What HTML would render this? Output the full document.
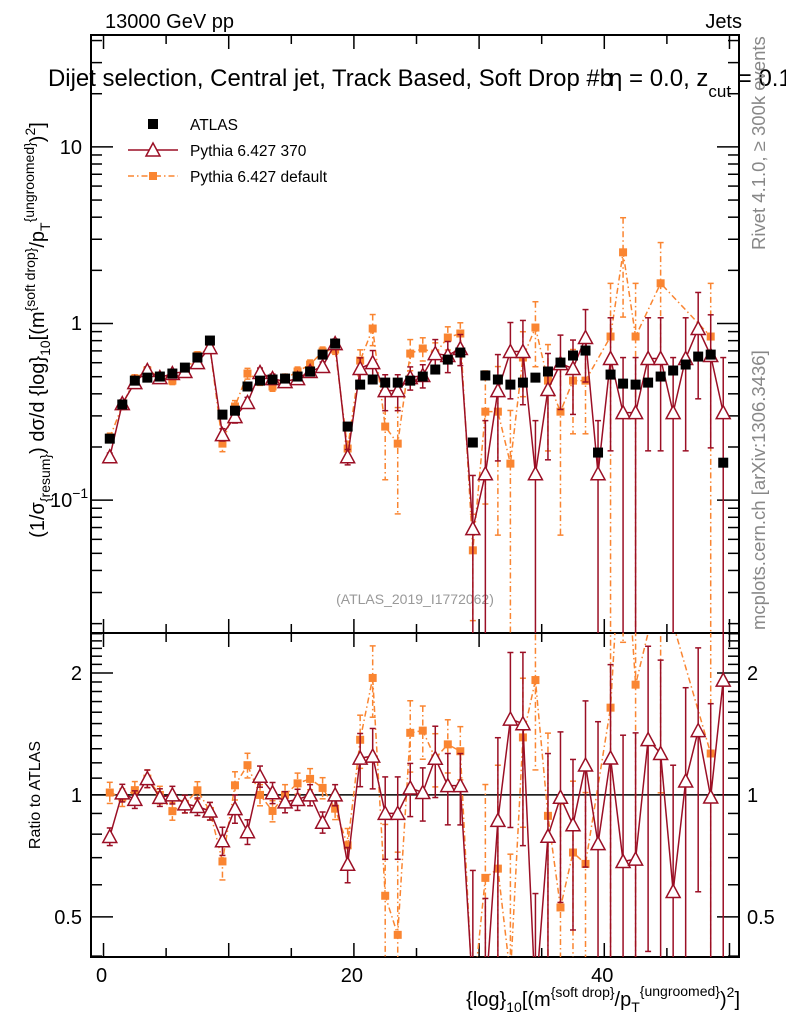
<!DOCTYPE html>
<html><head><meta charset="utf-8"><style>
html,body{margin:0;padding:0;background:#fff;overflow:hidden;width:786px;height:1024px;}
svg{display:block;font-family:"Liberation Sans",sans-serif;}
</style></head><body>
<svg id="chart" width="786" height="1024" viewBox="0 0 786 1024" xmlns="http://www.w3.org/2000/svg">
<defs>
<clipPath id="clipMain"><rect x="91" y="35" width="648" height="598"/></clipPath>
<clipPath id="clipRatio"><rect x="91" y="633" width="648" height="324"/></clipPath>
</defs>
<text x="105" y="28" font-size="20">13000 GeV pp</text>
<text x="742" y="28" font-size="20" text-anchor="end">Jets</text>
<text x="48" y="86" font-size="24" textLength="565" lengthAdjust="spacingAndGlyphs">Dijet selection, Central jet, Track Based, Soft Drop #b</text>
<text x="609" y="86" font-size="24">η = 0.0, z<tspan font-size="17" dy="11">cut</tspan><tspan dy="-11"> = 0.1</tspan></text>
<text transform="translate(765,250) rotate(-90)" font-size="18.5" fill="#888">Rivet 4.1.0, ≥ 300k events</text>
<text transform="translate(765,630) rotate(-90)" font-size="18.5" fill="#888">mcplots.cern.ch [arXiv:1306.3436]</text>
<text x="415" y="604" font-size="14" fill="#999" text-anchor="middle">(ATLAS_2019_I1772062)</text>
<text transform="translate(44,330) rotate(-90)" font-size="20" text-anchor="middle">(1/σ<tspan font-size="14" dy="6">{resum}</tspan><tspan dy="-6">) dσ/d {log}</tspan><tspan font-size="14" dy="6">10</tspan><tspan dy="-6">[(m</tspan><tspan font-size="14" dy="-9">{soft drop}</tspan><tspan dy="9">/p</tspan><tspan font-size="14" dy="6">T</tspan><tspan font-size="14" dy="-16">{ungroomed}</tspan><tspan dy="10">)</tspan><tspan font-size="14" dy="-9">2</tspan><tspan dy="9">]</tspan></text>
<text transform="translate(40,795) rotate(-90)" font-size="16" text-anchor="middle">Ratio to ATLAS</text>
<text x="740" y="1006" font-size="20" text-anchor="end">{log}<tspan font-size="14" dy="6">10</tspan><tspan dy="-6">[(m</tspan><tspan font-size="14" dy="-9">{soft drop}</tspan><tspan dy="9">/p</tspan><tspan font-size="14" dy="6">T</tspan><tspan font-size="14" dy="-16">{ungroomed}</tspan><tspan dy="10">)</tspan><tspan font-size="14" dy="-9">2</tspan><tspan dy="9">]</tspan></text>
<g id="axes"></g>
<g id="mainMarks" clip-path="url(#clipMain)"></g>
<g id="ratioMarks" clip-path="url(#clipRatio)"></g>
<g id="legend">
<rect x="148" y="119" width="10" height="10" fill="#000"/>
<text x="190" y="130" font-size="15.5">ATLAS</text>
<line x1="128" y1="150" x2="178" y2="150" stroke="#9b0f25" stroke-width="1.5"/>
<polygon points="153,143 160,156 146,156" fill="#fff" stroke="#9b0f25" stroke-width="1.5"/>
<text x="190" y="156" font-size="15.5">Pythia 6.427 370</text>
<line x1="128" y1="176" x2="178" y2="176" stroke="#fa8531" stroke-width="1.5" stroke-dasharray="6,3,1.5,3"/>
<rect x="149" y="172" width="8" height="8" fill="#fa8531"/>
<text x="190" y="182" font-size="15.5">Pythia 6.427 default</text>
</g>
</svg>
<script>
const binCenters = [0.5,1.5,2.5,3.5,4.5,5.5,6.5,7.5,8.5,9.5,10.5,11.5,12.5,13.5,14.5,15.5,16.5,17.5,18.5,19.5,20.5,21.5,22.5,23.5,24.5,25.5,26.5,27.5,28.5,29.5,30.5,31.5,32.5,33.5,34.5,35.5,36.5,37.5,38.5,39.5,40.5,41.5,42.5,43.5,44.5,45.5,46.5,47.5,48.5,49.5];
const atlasValues = [0.223,0.348,0.475,0.494,0.501,0.521,0.563,0.642,0.801,0.305,0.321,0.440,0.475,0.482,0.488,0.501,0.535,0.667,0.770,0.261,0.451,0.482,0.463,0.463,0.475,0.501,0.549,0.625,0.685,0.212,0.508,0.482,0.451,0.463,0.494,0.535,0.601,0.659,0.703,0.186,0.514,0.457,0.451,0.463,0.501,0.542,0.586,0.650,0.667,0.163];
const py370Values = [0.176,0.352,0.463,0.542,0.494,0.521,0.535,0.601,0.731,0.235,0.297,0.357,0.528,0.488,0.469,0.488,0.535,0.571,0.770,0.176,0.556,0.601,0.417,0.417,0.494,0.508,0.676,0.659,0.722,0.069,0.141,0.417,0.694,0.694,0.141,0.423,0.593,0.556,0.833,0.141,0.634,0.313,0.313,0.634,0.634,0.313,0.634,0.937,0.659,0.313];
const py370RelErr = [0.05,0.05,0.05,0.05,0.05,0.05,0.05,0.05,0.05,0.08,0.08,0.07,0.06,0.06,0.06,0.06,0.06,0.06,0.06,0.1,0.15,0.17,0.23,0.23,0.15,0.15,0.2,0.2,0.2,1.0,1.0,0.6,0.46,0.5,1.0,0.6,0.45,0.45,0.44,1.0,0.7,1.05,1.05,0.7,0.7,1.05,0.7,0.6,0.7,1.05];
const defaultValues = [0.226,0.343,0.488,0.542,0.501,0.475,0.535,0.659,0.731,0.209,0.339,0.521,0.475,0.440,0.488,0.535,0.586,0.694,0.712,0.196,0.617,0.937,0.261,0.209,0.676,0.722,0.676,0.833,0.878,0.052,0.317,0.317,0.161,0.642,0.949,0.475,0.317,0.475,0.475,null,0.844,2.53,0.844,null,1.69,null,null,null,0.844,null];
const defaultRelErr = [0.06,0.05,0.05,0.05,0.05,0.05,0.05,0.05,0.05,0.1,0.08,0.07,0.06,0.06,0.06,0.06,0.06,0.06,0.06,0.1,0.15,0.2,0.5,0.6,0.2,0.15,0.15,0.15,0.15,0.6,0.7,0.8,1.0,0.4,0.4,0.6,0.8,0.5,0.5,null,1.0,0.57,1.0,null,0.7,null,null,null,1.0,null];
const xTickLabels = ["0","20","40"];
const ratioTickLabels = ["0.5","1","2"];

const NS = "http://www.w3.org/2000/svg";
const L = 91, R = 739, T = 35, MB = 633, RB = 957;
const xMin = -1.0, xMax = 50.76;
const mainMin = Math.log10(0.0177), mainMax = Math.log10(43);
const rMin = Math.log10(0.398), rMax = Math.log10(2.51);
function sx(v){ return L + (v - xMin) / (xMax - xMin) * (R - L); }
function sy(v){ return MB - (Math.log10(v) - mainMin) / (mainMax - mainMin) * (MB - T); }
function sr(v){ return RB - (Math.log10(v) - rMin) / (rMax - rMin) * (RB - MB); }
function clampY(y){ return Math.max(0, Math.min(1000, y)); }
function mk(tag, attrs, parent){ const e = document.createElementNS(NS, tag); for (const k in attrs) e.setAttribute(k, attrs[k]); parent.appendChild(e); return e; }
const axes = document.getElementById('axes');
const mainG = document.getElementById('mainMarks');
const ratioG = document.getElementById('ratioMarks');

let f1 = mk('rect', {x:L, y:T, width:R-L, height:MB-T, fill:'none', stroke:'#000', 'stroke-width':2}, axes);


let f2 = mk('rect', {x:L, y:MB, width:R-L, height:RB-MB, fill:'none', stroke:'#000', 'stroke-width':2}, axes);



for (let v = 0; v <= 50; v += 5) {
  const x = sx(v); const len = (v % 10 === 0) ? 14 : 9;
  for (const [y0, dir] of [[RB,-1],[MB,1],[MB,-1],[T,1]]) {
    mk('line', {x1:x, x2:x, y1:y0, y2:y0 + dir*len, stroke:'#000', 'stroke-width':1.5}, axes);
  }
}
xTickLabels.forEach(function(s){
  const t = mk('text', {x:sx(parseFloat(s)) - 2, y:982, 'font-size':20, 'text-anchor':'middle'}, axes);
  t.textContent = s;
  
  
});
for (let d = -2; d <= 1; d++) {
  for (let m = 1; m <= 9; m++) {
    const v = m * Math.pow(10, d); const y = sy(v);
    if (y < T || y > MB) continue;
    const len = m === 1 ? 22 : 11;
    mk('line', {x1:L, x2:L+len, y1:y, y2:y, stroke:'#000', 'stroke-width':1.5}, axes);
    mk('line', {x1:R, x2:R-len, y1:y, y2:y, stroke:'#000', 'stroke-width':1.5}, axes);
  }
}
let t10 = mk('text', {x:82, y:154, 'font-size':20, 'text-anchor':'end'}, axes); t10.textContent = '10';


let t1 = mk('text', {x:82, y:330, 'font-size':20, 'text-anchor':'end'}, axes); t1.textContent = '1';


let tm = mk('text', {x:50, y:507, 'font-size':20}, axes);
tm.innerHTML = '10<tspan font-size="14" dy="-9">−1</tspan>';


for (let k = 4; k <= 25; k++) {
  const v = k / 10; const y = sr(v);
  if (y < MB || y > RB) continue;
  const major = (k === 5 || k === 10 || k === 20);
  const len = major ? 22 : 11;
  mk('line', {x1:L, x2:L+len, y1:y, y2:y, stroke:'#000', 'stroke-width':1.5}, axes);
  mk('line', {x1:R, x2:R-len, y1:y, y2:y, stroke:'#000', 'stroke-width':1.5}, axes);
}
ratioTickLabels.forEach(function(s){
  const v = parseFloat(s);
  const a = mk('text', {x:82, y:sr(v)+7, 'font-size':20, 'text-anchor':'end'}, axes); a.textContent = s;
  
  
  const b = mk('text', {x:747, y:sr(v)+7, 'font-size':20}, axes); b.textContent = s;
  
  
});
let one = mk('line', {x1:L, x2:R, y1:sr(1), y2:sr(1), stroke:'#000', 'stroke-width':1.5}, axes);



function drawSeries(g, ys, vals, errs, color, dash, marker, name) {
  const pts = [];
  binCenters.forEach(function(c, i){ if (vals[i] != null && vals[i] > 0) pts.push([sx(c), clampY(ys(vals[i]))]); });
  const pl = mk('polyline', {points: pts.map(p => p.join(',')).join(' '), fill:'none', stroke:color, 'stroke-width':1.5}, g);
  if (dash) pl.setAttribute('stroke-dasharray', dash);
  
  
  binCenters.forEach(function(c, i){
    const v = vals[i]; if (v == null || !(v > 0)) return;
    const x = sx(c), y = ys(v);
    if (errs && errs[i] != null) {
      const e = errs[i];
      const yTop = clampY(ys(v * (1 + e)));
      const hasBot = (1 - e) > 0.001;
      const yBot = hasBot ? clampY(ys(v * (1 - e))) : 1000;
      const eb = mk('line', {x1:x, x2:x, y1:yTop, y2:yBot, stroke:color, 'stroke-width':1.5}, g);
      if (dash) eb.setAttribute('stroke-dasharray', dash);
      
      
      mk('line', {x1:x-3, x2:x+3, y1:yTop, y2:yTop, stroke:color, 'stroke-width':1.5}, g);
      if (hasBot) mk('line', {x1:x-3, x2:x+3, y1:yBot, y2:yBot, stroke:color, 'stroke-width':1.5}, g);
    }
    if (y < -20 || y > 1010) return;
    let m;
    if (marker === 'tri') {
      m = mk('polygon', {points: x+','+(y-7)+' '+(x+7)+','+(y+6)+' '+(x-7)+','+(y+6), fill:'#fff', stroke:color, 'stroke-width':1.5}, g);
    } else {
      m = mk('rect', {x:x-4, y:y-4, width:8, height:8, fill:color}, g);
    }
    
    
  });
}
drawSeries(mainG, sy, defaultValues, defaultRelErr, '#fa8531', '6,3,1.5,3', 'sq', 'pythia-default');
drawSeries(mainG, sy, py370Values, py370RelErr, '#9b0f25', null, 'tri', 'pythia-370');
binCenters.forEach(function(c, i){
  const r = mk('rect', {x:sx(c)-5, y:sy(atlasValues[i])-5, width:10, height:10, fill:'#000'}, mainG);
  
  
});
const ratioDefault = defaultValues.map((v, i) => v == null ? null : v / atlasValues[i]);
const ratio370 = py370Values.map((v, i) => v / atlasValues[i]);
drawSeries(ratioG, sr, ratioDefault, defaultRelErr, '#fa8531', '6,3,1.5,3', 'sq', 'ratio-pythia-default');
drawSeries(ratioG, sr, ratio370, py370RelErr, '#9b0f25', null, 'tri', 'ratio-pythia-370');
</script>
</body></html>
